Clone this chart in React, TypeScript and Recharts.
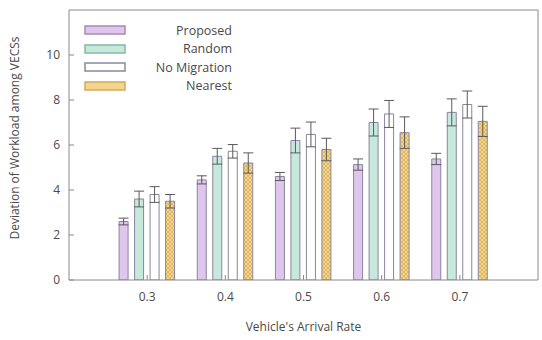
import React from 'react';
import { BarChart, Bar, XAxis, YAxis, ErrorBar, CartesianGrid } from 'recharts';

const rates = [0.3, 0.4, 0.5, 0.6, 0.7];
const proposed = [2.6, 4.45, 4.6, 5.13, 5.38];
const proposedErr = [0.15, 0.18, 0.18, 0.25, 0.25];
const random = [3.6, 5.5, 6.2, 7.0, 7.45];
const randomErr = [0.35, 0.35, 0.55, 0.6, 0.6];
const noMigration = [3.8, 5.72, 6.47, 7.38, 7.8];
const noMigrationErr = [0.35, 0.3, 0.55, 0.6, 0.6];
const nearest = [3.5, 5.2, 5.8, 6.55, 7.05];
const nearestErr = [0.3, 0.45, 0.5, 0.7, 0.67];
const yTicks = [0, 2, 4, 6, 8, 10];
const xDomain = [0.2, 0.8];
const yDomain = [0, 12];

const FONT = '"Open Sans", "DejaVu Sans", sans-serif';
const TEXT = '#4a4a4a';
const FRAME = '#8a8a8a';
const BAR_STROKE = '#8c84a0';

const W = 542;
const H = 340;
const MARGIN = { top: 10, right: 4, left: 0, bottom: 30 };

const series = [
  { key: 'proposed', err: 'proposedErr', name: 'Proposed', fill: '#dfc6ec', legendStroke: '#a88ab8' },
  { key: 'random', err: 'randomErr', name: 'Random', fill: '#c7e9dc', legendStroke: '#86b8a6' },
  { key: 'noMigration', err: 'noMigrationErr', name: 'No Migration', fill: '#ffffff', legendStroke: '#8888a0' },
  { key: 'nearest', err: 'nearestErr', name: 'Nearest', fill: 'url(#hatch)', legendStroke: '#d4a860' },
];

const data = rates.map((rate, i) => ({
  rate,
  proposed: proposed[i],
  proposedErr: proposedErr[i],
  random: random[i],
  randomErr: randomErr[i],
  noMigration: noMigration[i],
  noMigrationErr: noMigrationErr[i],
  nearest: nearest[i],
  nearestErr: nearestErr[i],
}));

function LegendBox() {
  return (
    <div style={{ position: 'absolute', left: 84, top: 21, fontFamily: FONT, fontSize: 12.5, color: TEXT }}>
      {series.map((s) => (
        <div key={s.key} style={{ display: 'flex', alignItems: 'center', height: 18.5 }}>
          <svg width={44} height={10} style={{ marginRight: 6 }}>
            <rect x={1} y={1} width={40} height={8} fill={s.key === 'nearest' ? '#f2d68c' : s.fill} stroke={s.legendStroke} strokeWidth={1.5} />
          </svg>
          <span style={{ width: 98, textAlign: 'right' }}>{s.name}</span>
        </div>
      ))}
    </div>
  );
}

const axisTick = { fontSize: 12, fill: TEXT, fontFamily: FONT };

export default function App() {
  return (
    <div style={{ position: 'absolute', left: 0, top: 0, width: W, height: H, background: '#fff' }}>
      <BarChart width={W} height={H} data={data} margin={MARGIN} barSize={9} barGap={6.5}>
        <defs>
          <pattern id="hatch" width="4" height="4" patternUnits="userSpaceOnUse">
            <rect width="4" height="4" fill="#f2d68c" />
            <path d="M0,0 L4,4 M4,0 L0,4" stroke="#d9a850" strokeWidth="0.7" />
          </pattern>
        </defs>
        {/* top and right edges of the frame, taken from the chart's own plot offset */}
        <CartesianGrid
          stroke={FRAME}
          strokeDasharray=""
          horizontalCoordinatesGenerator={({ offset }) => [offset.top]}
          verticalCoordinatesGenerator={({ offset }) => [offset.left + offset.width]}
        />
        <XAxis
          dataKey="rate"
          type="number"
          domain={xDomain}
          ticks={rates}
          tickFormatter={(v) => v.toFixed(1)}
          height={30}
          stroke={FRAME}
          tickSize={-5}
          tickMargin={17}
          tick={axisTick}
          allowDataOverflow
        />
        <YAxis
          domain={yDomain}
          ticks={yTicks}
          width={69}
          stroke={FRAME}
          tickSize={-5}
          tickMargin={14}
          tick={axisTick}
          allowDataOverflow
        />
        {series.map((s) => (
          <Bar
            key={s.key}
            dataKey={s.key}
            name={s.name}
            fill={s.fill}
            stroke={BAR_STROKE}
            strokeWidth={1}
            isAnimationActive={false}
          >
            <ErrorBar dataKey={s.err} width={5} stroke="#5a5a5a" strokeWidth={1} />
          </Bar>
        ))}
      </BarChart>
      <LegendBox />
      <div
        style={{
          position: 'absolute',
          left: 15 - 130,
          top: 138 - 8,
          width: 260,
          height: 16,
          lineHeight: '16px',
          transform: 'rotate(-90deg)',
          textAlign: 'center',
          fontFamily: FONT,
          fontSize: 12,
          color: TEXT,
        }}
      >
        Deviation of Workload among VECSs
      </div>
      <div
        style={{
          position: 'absolute',
          left: 69,
          width: 469,
          top: 318,
          textAlign: 'center',
          fontFamily: FONT,
          fontSize: 12,
          color: TEXT,
        }}
      >
        Vehicle's Arrival Rate
      </div>
    </div>
  );
}
